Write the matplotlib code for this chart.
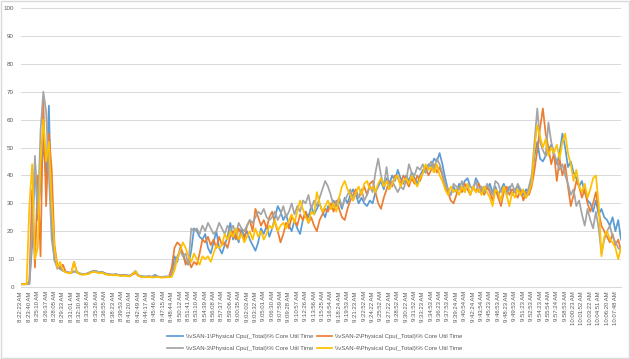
import matplotlib.pyplot as plt
from matplotlib.patches import Rectangle

# tick labels, one every 3 samples
times = ["8:22:23 AM", "8:23:40 AM", "8:25:10 AM", "8:26:37 AM", "8:28:05 AM", "8:29:33 AM",
         "8:31:01 AM", "8:32:30 AM", "8:33:58 AM", "8:35:26 AM", "8:36:55 AM", "8:38:23 AM",
         "8:39:53 AM", "8:41:20 AM", "8:42:49 AM", "8:44:17 AM", "8:45:46 AM", "8:47:15 AM",
         "8:48:44 AM", "8:50:12 AM", "8:51:41 AM", "8:53:10 AM", "8:54:39 AM", "8:56:08 AM",
         "8:57:37 AM", "8:59:06 AM", "9:00:35 AM", "9:02:03 AM", "9:03:32 AM", "9:05:01 AM",
         "9:06:30 AM", "9:07:59 AM", "9:09:28 AM", "9:10:57 AM", "9:12:26 AM", "9:13:56 AM",
         "9:15:25 AM", "9:16:54 AM", "9:18:24 AM", "9:19:53 AM", "9:21:23 AM", "9:22:52 AM",
         "9:24:22 AM", "9:25:52 AM", "9:27:22 AM", "9:28:52 AM", "9:30:22 AM", "9:31:52 AM",
         "9:33:23 AM", "9:34:53 AM", "9:36:23 AM", "9:37:53 AM", "9:39:24 AM", "9:40:54 AM",
         "9:42:24 AM", "9:43:54 AM", "9:45:23 AM", "9:46:53 AM", "9:48:23 AM", "9:49:53 AM",
         "9:51:23 AM", "9:52:53 AM", "9:54:23 AM", "9:55:54 AM", "9:57:24 AM", "9:58:53 AM",
         "10:00:23 AM", "10:01:52 AM", "10:03:22 AM", "10:04:51 AM", "10:06:20 AM", "10:07:48 AM"]

vsan1 = [1, 1, 1, 1.2, 15, 45, 24, 37, 52, 38, 65, 22, 9.5, 7.5, 6.5, 5.8, 5.5, 5.2,
         5.0, 5.6, 5.2, 4.8, 4.6, 4.7, 4.9, 5.4, 5.8, 5.6, 5.2, 5.5, 5.0, 4.6, 4.5,
         4.4, 4.6, 4.3, 4.2, 4.4, 4.1, 4.0, 4.6, 5.2, 4.2, 3.9, 3.8, 3.7, 3.9, 3.6,
         4.4, 3.7, 3.6, 3.6, 3.8, 3.6, 4.5, 11, 9, 14, 12, 9, 8, 13, 21, 20, 18, 17,
         19, 14, 12, 16, 20, 14, 12, 15, 18, 23, 17, 19, 16, 21, 18, 20, 17, 15,
         13, 16, 21, 19, 22, 18, 21, 25, 29, 27, 24, 26, 22, 20, 24, 21, 19, 24,
         27, 25, 29, 26, 28, 30, 27, 25, 29, 28, 31, 29, 31, 28, 32, 30, 33, 35,
         33, 30, 32, 30, 29, 31, 30, 34, 36, 38, 35, 39, 37, 40, 38, 42, 39, 37,
         40, 38, 41, 39, 37, 40, 42, 41, 44, 43, 46, 45, 48, 44, 39, 35, 33, 36,
         34, 37, 35, 38, 39, 36, 35, 39, 37, 34, 36, 35, 37, 34, 36, 33, 35, 37,
         34, 36, 33, 35, 36, 34, 33, 35, 34, 38, 47, 52, 46, 45, 47, 49, 51, 47,
         44, 48, 55, 50, 43, 45, 41, 39, 36, 38, 34, 31, 30, 27, 31, 26, 28, 25,
         24, 22, 25, 20, 24, 17]

vsan2 = [1, 1, 1, 2, 35, 7, 40, 11, 67, 29, 55, 42, 15, 8, 6.5, 8, 5.5, 5.2,
         5.0, 9, 5.5, 4.8, 4.5, 4.6, 4.7, 5.2, 5.6, 5.4, 5.0, 5.3, 4.8, 4.5, 4.4,
         4.3, 4.5, 4.2, 4.0, 4.3, 4.0, 3.9, 4.5, 5.0, 4.1, 3.7, 3.6, 3.6, 3.8, 3.5,
         3.6, 3.7, 3.5, 3.5, 3.7, 3.6, 7, 14, 16, 15, 12, 8, 10, 7, 9, 8, 12, 17,
         16, 18, 15, 17, 14, 18, 15, 16, 14, 18, 20, 17, 21, 19, 17, 22, 24, 20,
         28, 25, 22, 24, 21, 25, 27, 23, 20, 16, 19, 23, 21, 25, 24, 22, 26, 24,
         27, 23, 25, 22, 20, 24, 26, 28, 27, 30, 27, 31, 28, 25, 24, 28, 31, 33,
         35, 32, 34, 36, 33, 37, 38, 34, 30, 28, 32, 35, 38, 36, 40, 39, 37, 40,
         38, 36, 39, 37, 40, 38, 41, 43, 40, 42, 44, 41, 43, 40, 36, 34, 31, 30,
         33, 36, 34, 37, 35, 33, 36, 34, 37, 35, 33, 36, 34, 31, 35, 32, 29, 34,
         36, 33, 35, 34, 32, 35, 31, 34, 33, 36, 42, 49, 57, 64, 55, 50, 44, 48,
         38, 46, 40, 44, 36, 29, 33, 38, 36, 32, 35, 30, 27, 30, 34, 27, 22, 20,
         18, 16, 19, 15, 17, 13]

vsan3 = [1, 1, 1, 1, 20, 47, 26, 56, 70, 63, 40, 17, 10, 6.5, 7.5, 6, 5.4, 5.3,
         5.1, 5.6, 5.4, 4.9, 4.7, 4.6, 5.0, 5.5, 5.6, 5.7, 5.3, 5.4, 4.9, 4.7, 4.5,
         4.5, 4.4, 4.4, 4.3, 4.2, 4.2, 4.1, 4.8, 5.8, 4.3, 3.8, 3.7, 3.8, 3.7, 3.7,
         3.9, 3.8, 3.6, 3.7, 3.6, 3.7, 4, 8, 11, 13, 11, 12, 8, 21, 20, 21, 19, 22,
         20, 23, 21, 19, 20, 23, 21, 19, 22, 20, 22, 19, 23, 21, 20, 22, 24, 23,
         25, 27, 26, 28, 25, 24, 25, 27, 24, 26, 29, 25, 27, 30, 26, 29, 27, 31,
         30, 33, 28, 31, 29, 32, 35, 38, 36, 33, 29, 30, 32, 29, 31, 33, 35, 31,
         34, 32, 35, 31, 33, 36, 34, 41, 46, 40, 36, 43, 35, 38, 36, 34, 36, 35,
         38, 44, 41, 40, 43, 42, 44, 41, 43, 45, 42, 46, 44, 41, 37, 35, 33, 37,
         36, 35, 38, 34, 37, 36, 35, 38, 34, 36, 34, 37, 35, 33, 38, 37, 34, 36,
         33, 35, 37, 34, 37, 35, 34, 32, 36, 40, 52, 64, 52, 49, 47, 59, 52, 48,
         45, 42, 44, 40, 37, 33, 35, 29, 31, 26, 22, 28, 24, 21, 27, 21, 12, 17,
         20, 22, 18, 16, 14, 13]

vsan4 = [1, 1, 1, 29, 44, 10, 14, 45, 60, 45, 52, 30, 14, 7, 9, 6, 5.2, 5.0,
         4.9, 9, 5.3, 4.6, 4.4, 4.5, 4.6, 5.1, 5.4, 5.3, 4.9, 5.2, 4.6, 4.4, 4.3,
         4.2, 4.3, 4.1, 3.9, 4.1, 3.9, 3.8, 4.6, 5.6, 4.0, 3.6, 3.5, 3.5, 3.6, 3.4,
         3.5, 3.6, 3.4, 3.4, 3.5, 3.5, 3.6, 6, 10, 13, 16, 14, 11, 9, 12, 10, 8, 11,
         10, 11, 9, 12, 15, 14, 15, 19, 17, 20, 18, 21, 17, 19, 16, 18, 20, 17,
         21, 18, 20, 17, 19, 22, 21, 24, 20, 22, 23, 21, 24, 26, 23, 27, 31, 28,
         25, 23, 27, 26, 34, 30, 27, 29, 31, 28, 30, 27, 32, 36, 38, 35, 33, 31,
         34, 36, 33, 37, 38, 35, 36, 34, 37, 39, 36, 38, 35, 37, 39, 40, 36, 38,
         39, 37, 40, 38, 36, 39, 41, 44, 42, 43, 41, 44, 40, 38, 35, 33, 36, 34,
         35, 33, 36, 34, 37, 33, 36, 34, 35, 33, 36, 34, 32, 29, 35, 34, 31, 36,
         33, 29, 34, 32, 35, 33, 35, 32, 34, 37, 50, 58, 54, 50, 53, 47, 50, 48,
         51, 46, 52, 55, 48, 44, 38, 42, 36, 34, 37, 32, 35, 39, 40, 30, 11, 18,
         20, 17, 16, 14, 10, 14]

names = [r"\\vSAN-1\Physical Cpu(_Total)\% Core Util Time",
         r"\\vSAN-2\Physical Cpu(_Total)\% Core Util Time",
         r"\\vSAN-3\Physical Cpu(_Total)\% Core Util Time",
         r"\\vSAN-4\Physical Cpu(_Total)\% Core Util Time"]
colors = ["#5B9BD5", "#ED7D31", "#A5A5A5", "#FFC000"]

plt.rcParams['font.family'] = ['Liberation Sans', 'DejaVu Sans']
txt = "#595959"

fig = plt.figure(figsize=(6.3, 3.59), dpi=100)
ax = fig.add_axes([21 / 630, 1 - 287 / 359, 600 / 630, 279 / 359])

lines = []
for vals, name, c in zip([vsan1, vsan2, vsan3, vsan4], names, colors):
    ln, = ax.plot(range(len(vals)), vals, color=c, linewidth=1.25, label=name)
    lines.append(ln)

ax.set_ylim(0, 100)
ax.set_yticks(range(0, 101, 10))
ax.set_xlim(0, len(vsan1) - 1)
ax.set_xticks([3 * i for i in range(len(times))], times, rotation=90)
ax.tick_params(axis='x', length=0, labelsize=4.3, labelcolor=txt, pad=3)
ax.tick_params(axis='y', length=0, labelsize=4.5, labelcolor=txt, pad=5)
ax.grid(axis='y', color='#D9D9D9', linewidth=0.7)
ax.set_axisbelow(True)
for s in ['top', 'right', 'left']:
    ax.spines[s].set_visible(False)
ax.spines['bottom'].set_color('#D9D9D9')

# column-wise fill: put 1,3 in first column and 2,4 in second
order = [0, 2, 1, 3]
leg = fig.legend([lines[i] for i in order], [names[i] for i in order],
                 loc='center', bbox_to_anchor=(0.5, 0.046), ncol=2, frameon=False,
                 fontsize=4.3, handlelength=2.6, columnspacing=0.6, labelspacing=1.2,
                 handletextpad=0.5)
for t in leg.get_texts():
    t.set_color(txt)

fig.patches.append(Rectangle((0.001, 0.002), 0.997, 0.996, transform=fig.transFigure,
                             fill=False, edgecolor='#D9D9D9', linewidth=1))
fig.savefig('out.png', dpi=100)
